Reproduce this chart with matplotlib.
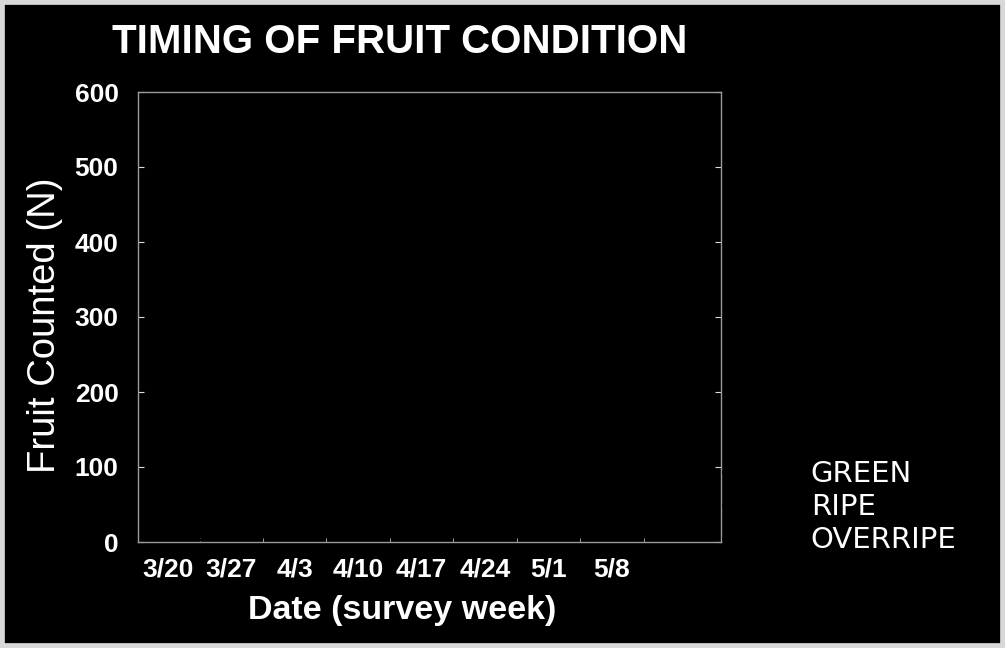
import matplotlib
matplotlib.use("Agg")
import matplotlib.pyplot as plt
from matplotlib.patches import Rectangle
from matplotlib.lines import Line2D

# ---- data (series drawn black on black, as in the reference) ----
dates = ['3/20', '3/27', '4/3', '4/10', '4/17', '4/24', '5/1', '5/8']
green = [115, 555, 510, 440, 330, 200, 120, 60]
ripe = [5, 20, 60, 110, 150, 170, 130, 90]
overripe = [0, 5, 10, 30, 60, 90, 110, 100]
series_names = ['GREEN', 'RIPE', 'OVERRIPE']
y_ticks = [0, 100, 200, 300, 400, 500, 600]

W, H = 1005, 648
fig = plt.figure(figsize=(W / 100, H / 100), dpi=100)
fig.patch.set_facecolor('black')

# thin light border of the scanned slide
fig.patches.append(Rectangle((0, 0), 1, 1, transform=fig.transFigure,
                             fill=False, edgecolor='#d8d8d8', linewidth=7, zorder=0))

left, right, top, bottom = 138, 721, 92, 542
ax = fig.add_axes([left / W, 1 - bottom / H, (right - left) / W, (bottom - top) / H])
ax.set_facecolor('black')

x = list(range(len(dates)))
cols = ['#000000', '#000000', '#000000']
for vals, c, name in zip([green, ripe, overripe], cols, series_names):
    ax.plot(x, vals, color=c, linewidth=2, marker='s', markersize=6, label=name)

ax.set_xlim(-0.47, 8.72)
ax.set_ylim(0, 600)
ax.set_yticks(y_ticks)
ax.set_yticklabels([str(v) for v in y_ticks])
ax.set_xticks(x)
ax.set_xticklabels(dates)
ax.set_xticks([i + 0.5 for i in range(8)], minor=True)

for s in ax.spines.values():
    s.set_color('#9a9a9a')
    s.set_linewidth(1.0)

ax.tick_params(axis='x', which='major', length=0, pad=11, colors='white', labelsize=19)
ax.tick_params(axis='x', which='minor', direction='in', length=3, color='#bbbbbb')
ax.tick_params(axis='y', direction='in', length=4, color='#dddddd', pad=14,
               colors='white', labelsize=19, right=True)
for lab in ax.get_xticklabels() + ax.get_yticklabels():
    lab.set_fontweight('bold')
    lab.set_color('white')
    lab.set_family('Liberation Sans')

fig.text(112 / W, 1 - 42 / H, 'TIMING OF FRUIT CONDITION', color='white',
         fontsize=29, fontweight='bold', family='Liberation Sans',
         ha='left', va='center')

fig.text(45 / W, 1 - 325 / H, 'Fruit Counted (N)', color='white', rotation=90,
         fontsize=27.5, family='Liberation Sans', ha='center', va='center')

fig.text(402 / W, 1 - 611 / H, 'Date (survey week)', color='white',
         fontsize=24.5, fontweight='bold', family='Liberation Sans',
         ha='center', va='center')

# legend: markers invisible (black), labels white
handles = [Line2D([0], [0], color=c, marker='s', linewidth=2) for c in cols]
leg = fig.legend(handles, series_names, loc='upper left',
                 bbox_to_anchor=(697 / W, 1 - 434 / H), frameon=False,
                 labelspacing=0.17, handlelength=2.0, handletextpad=1.0,
                 prop={'family': 'DejaVu Sans', 'size': 21})
for t in leg.get_texts():
    t.set_color('white')

fig.savefig('out.png', dpi=100, facecolor=fig.get_facecolor())
